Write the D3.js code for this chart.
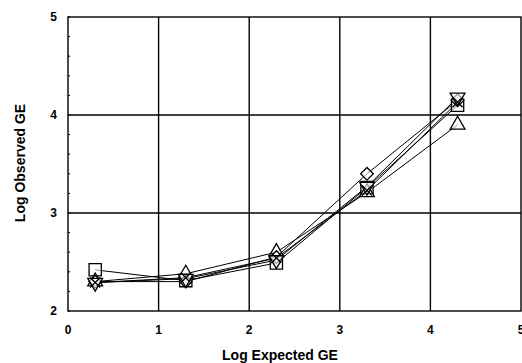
<!DOCTYPE html>
<html>
<head>
<meta charset="utf-8">
<script src="https://cdn.jsdelivr.net/npm/d3@7/dist/d3.min.js"></script>
<style>
  body { margin: 0; background: #fff; }
  text { font-family: "Liberation Sans", Arial, sans-serif; font-weight: bold; }
</style>
</head>
<body>
<svg id="chart" width="522" height="363"></svg>
<script>
// log expected GE (x positions)
const expected = [0.3, 1.3, 2.3, 3.3, 4.3]

// log observed GE per series
const squareVals   = [2.42, 2.31, 2.49, 3.26, 4.10]
const triangleVals = [2.30, 2.38, 2.60, 3.21, 3.90]
const diamondVals  = [2.30, 2.30, 2.55, 3.40, 4.15]
const invTriVals   = [2.29, 2.33, 2.52, 3.27, 4.18]
const crossVals    = [2.29, 2.34, 2.54, 3.23, 4.13]

const series = [
  {name: 'square', vals: squareVals, sym: d3.symbolSquare, size: 150, rot: 0},
  {name: 'triangle', vals: triangleVals, sym: d3.symbolTriangle, size: 95, rot: 0},
  {name: 'diamond', vals: diamondVals, sym: d3.symbolSquare, size: 80, rot: 45},
  {name: 'invtri', vals: invTriVals, sym: d3.symbolTriangle, size: 95, rot: 180},
  {name: 'cross', vals: crossVals, sym: d3.symbolCross, size: 0, rot: 45}
]

const xTicks = [0, 1, 2, 3, 4, 5]
const yTicks = [2, 3, 4, 5]

let svg = d3.select('#chart')
let margin = {left: 68, top: 17, right: 521, bottom: 311}

let xScale = d3.scaleLinear().domain([0, 5]).range([margin.left, margin.right])
let yScale = d3.scaleLinear().domain([2, 5]).range([margin.bottom, margin.top])

// grid lines
svg.selectAll('.vgrid')
  .data(xTicks.slice(1, -1))
  .join('line')
  .attr('x1', d => xScale(d)).attr('x2', d => xScale(d))
  .attr('y1', margin.top).attr('y2', margin.bottom)
  .attr('stroke', '#000').attr('stroke-width', 1.4)

svg.selectAll('.hgrid')
  .data(yTicks.slice(1, -1))
  .join('line')
  .attr('x1', margin.left).attr('x2', margin.right)
  .attr('y1', d => yScale(d)).attr('y2', d => yScale(d))
  .attr('stroke', '#000').attr('stroke-width', 1.4)

// minor ticks on left axis
let minor = d3.range(2, 5.001, 0.2)
svg.selectAll('.minor')
  .data(minor)
  .join('line')
  .attr('x1', margin.left).attr('x2', margin.left + 2)
  .attr('y1', d => yScale(d)).attr('y2', d => yScale(d))
  .attr('stroke', '#000').attr('stroke-width', 1)

// frame
svg.append('rect')
  .attr('x', margin.left).attr('y', margin.top)
  .attr('width', margin.right - margin.left)
  .attr('height', margin.bottom - margin.top)
  .attr('fill', 'none').attr('stroke', '#000').attr('stroke-width', 1.4)

// tick labels
svg.selectAll('.xlab')
  .data(xTicks)
  .join('text')
  .attr('x', d => xScale(d)).attr('y', 334)
  .attr('text-anchor', 'middle')
  .attr('font-size', 12)
  .text(d => d)

svg.selectAll('.ylab')
  .data(yTicks)
  .join('text')
  .attr('x', 57).attr('y', d => yScale(d) + 4)
  .attr('text-anchor', 'end')
  .attr('font-size', 12)
  .text(d => d)

// axis titles
svg.append('text')
  .attr('x', 280).attr('y', 360)
  .attr('text-anchor', 'middle')
  .attr('font-size', 14)
  .text('Log Expected GE')

svg.append('text')
  .attr('transform', 'translate(25,163) rotate(-90)')
  .attr('text-anchor', 'middle')
  .attr('font-size', 14)
  .text('Log Observed GE')

// lines
let line = d3.line()
  .x((d, i) => xScale(expected[i]))
  .y(d => yScale(d))

svg.selectAll('.series')
  .data(series)
  .join('path')
  .attr('d', s => line(s.vals))
  .attr('fill', 'none')
  .attr('stroke', '#000')
  .attr('stroke-width', 1)

// markers
series.forEach(s => {
  let g = svg.append('g')
  let pts = g.selectAll('g')
    .data(s.vals)
    .join('g')
    .attr('transform', (d, i) => 'translate(' + xScale(expected[i]) + ',' + yScale(d) + ')')
  if (s.name === 'cross') {
    pts.append('path')
      .attr('d', 'M-5,-5L5,5M-5,5L5,-5')
      .attr('stroke', '#000').attr('stroke-width', 1.3)
  } else {
    pts.append('path')
      .attr('d', d3.symbol().type(s.sym).size(s.size))
      .attr('transform', 'rotate(' + s.rot + ')')
      .attr('fill', '#fff')
      .attr('fill-opacity', 0.6)
      .attr('stroke', '#000')
      .attr('stroke-width', 1.3)
  }
})
</script>
</body>
</html>
